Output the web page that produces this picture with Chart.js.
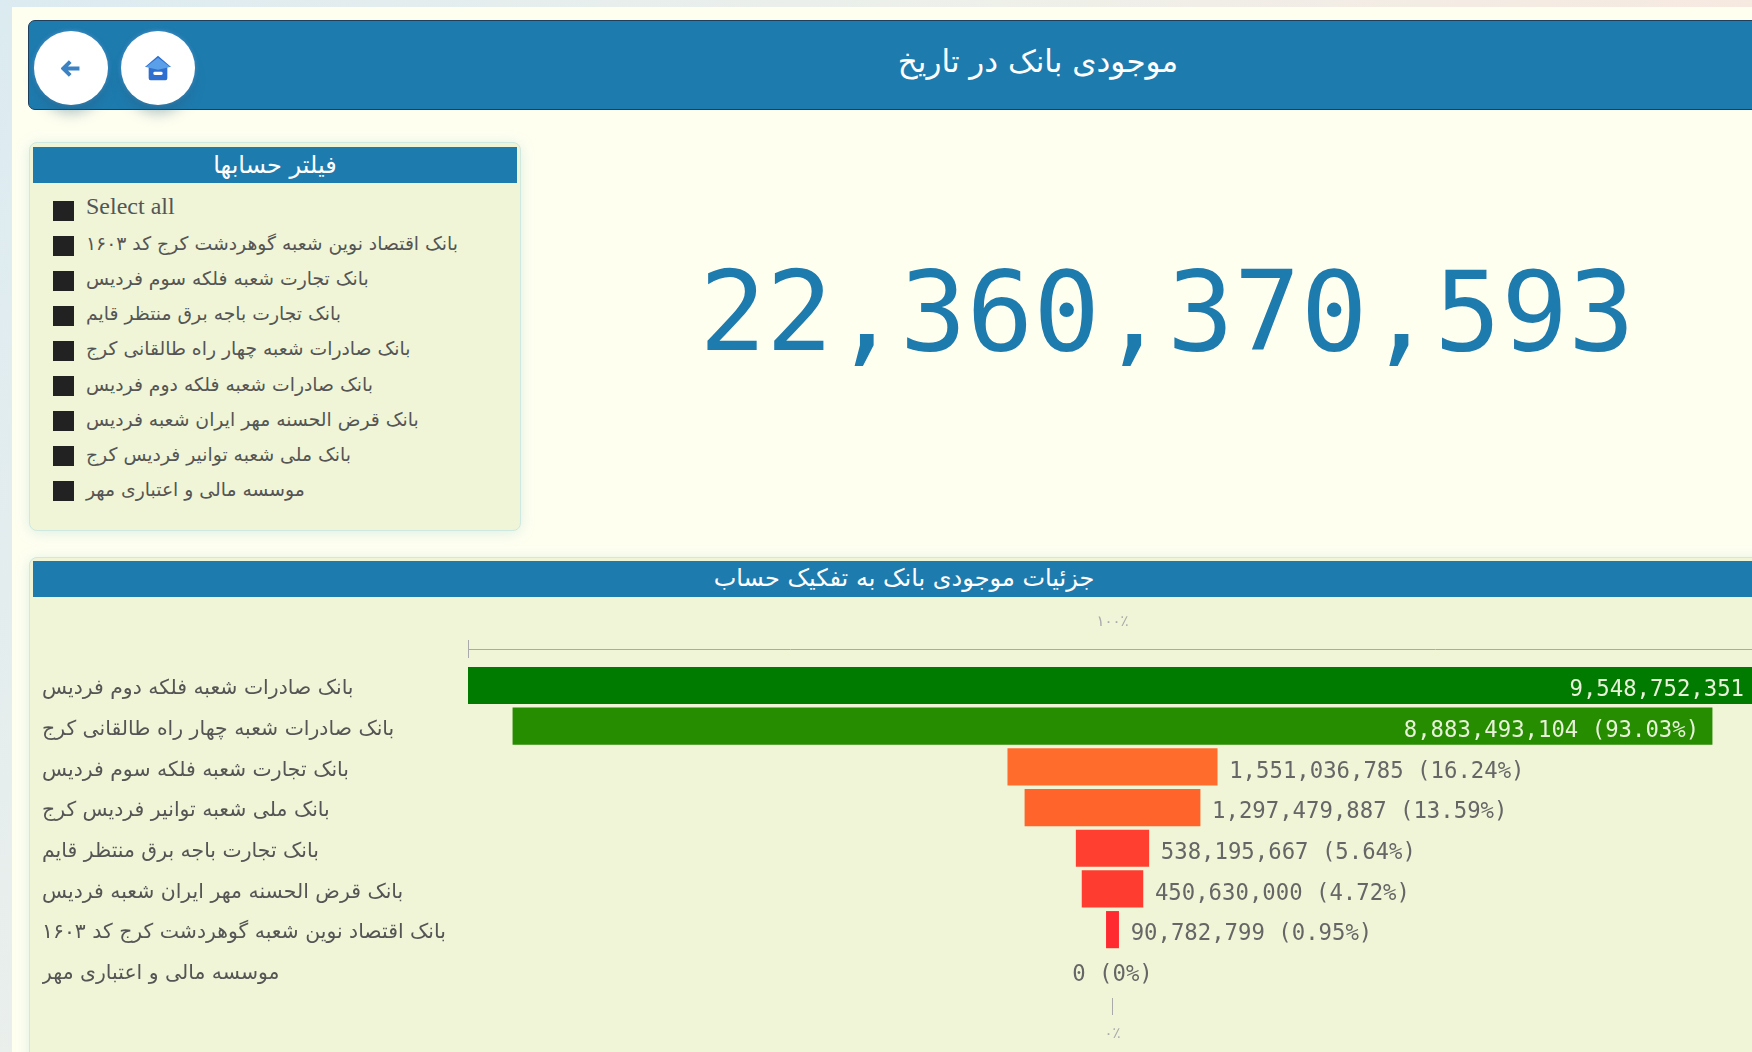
<!DOCTYPE html>
<html lang="fa">
<head>
<meta charset="utf-8">
<title>موجودی بانک در تاریخ</title>
<script src="https://cdn.jsdelivr.net/npm/chart.js@4"></script>
<style>
  html, body { margin: 0; width: 1752px; height: 1052px; overflow: hidden; }
  body { position: relative; background: linear-gradient(125deg, #dcebf1 0%, #eef0ea 40%, #f8e8df 75%); font-family: "DejaVu Sans", sans-serif; }
  .page { position: absolute; left: 12px; top: 7px; right: 0; bottom: 0; background: #fffff0; }
  .header { position: absolute; left: 28px; top: 20px; width: 1740px; height: 90px; background: #1e7bae; border: 1px solid #1f3f5c; border-radius: 7px; box-sizing: border-box; }
  .header h1 { position: absolute; left: 909px; top: 20px; width: 200px; margin: 0; white-space: nowrap; display: flex; justify-content: center; color: #fff; font-size: 31px; font-weight: normal; line-height: 40px; }
  .btn { position: absolute; top: 31px; width: 74px; height: 74px; border-radius: 50%; background: #fff; box-shadow: 0 12px 14px -4px rgba(40, 90, 120, .38), 0 0 4px rgba(90, 150, 210, .8); display: flex; align-items: center; justify-content: center; }
  .panel { position: absolute; background: #eff5d6; border: 1px solid #cfe8e0; border-radius: 8px; box-shadow: 0 2px 14px rgba(120, 190, 200, .25); box-sizing: border-box; }
  .panel .bar { position: absolute; left: 3px; right: 3px; top: 3px; background: #1e7bae; color: #fff; text-align: center; font-size: 24px; }
  #filter { left: 29px; top: 142px; width: 492px; height: 389px; }
  #filter .bar { top: 4px; height: 36px; line-height: 36px; }
  #rows { position: absolute; left: 23px; top: 50px; }
  .row { height: 35.1px; display: flex; align-items: center; color: #555; font-size: 18.8px; white-space: nowrap; }
  .row i { width: 21px; height: 20px; background: #222; margin-right: 12px; flex: none; }
  .row span { position: relative; top: -2px; }
  .row.en { font-family: "Liberation Serif", serif; font-size: 24px; }
  .row.en span { top: -4px; }
  #detail { left: 29px; top: 557px; width: 1760px; height: 520px; }
  #detail .bar { height: 36px; line-height: 34px; }
  #detail .bar span { position: absolute; left: 679px; width: 384px; display: flex; justify-content: center; white-space: nowrap; }
  #total { position: absolute; left: 600px; top: 247px; width: 1134px; text-align: center; color: #1e7bae; font: 111px/130px "DejaVu Sans Mono", monospace; }
  #funnel { position: absolute; left: 33px; top: 600px; }
</style>
</head>
<body>
<div class="page"></div>
<div class="header"><h1 dir="rtl">موجودی بانک در تاریخ</h1></div>
<div class="btn" style="left:34px">
  <svg width="20" height="17" viewBox="0 0 26 22"><path d="M12 2 3 11l9 9M4 11h20" fill="none" stroke="#3b82c4" stroke-width="5"/></svg>
</div>
<div class="btn" style="left:121px">
  <svg width="28" height="28" viewBox="0 0 30 30"><path d="M15 2 1 14h4v12q0 2 2 2h16q2 0 2-2V14h4z" fill="#2f6fd0"/><path d="M2 14 15 4l13 10-13 3z" fill="#5aa0e8"/><rect x="10" y="19" width="10" height="3.5" rx="1.5" fill="#fff"/></svg>
</div>
<div class="panel" id="filter">
  <div class="bar" dir="rtl">فیلتر حسابها</div>
  <div id="rows"></div>
</div>
<div id="total">22,360,370,593</div>
<div class="panel" id="detail">
  <div class="bar"><span dir="rtl">جزئیات موجودی بانک به تفکیک حساب</span></div>
</div>
<canvas id="funnel" width="1760" height="452"></canvas>

<script>
const filter_names = [
  'Select all',
  'بانک اقتصاد نوین شعبه گوهردشت کرج کد ۱۶۰۳',
  'بانک تجارت شعبه فلکه سوم فردیس',
  'بانک تجارت باجه برق منتظر قایم',
  'بانک صادرات شعبه چهار راه طالقانی کرج',
  'بانک صادرات شعبه فلکه دوم فردیس',
  'بانک قرض الحسنه مهر ایران شعبه فردیس',
  'بانک ملی شعبه توانیر فردیس کرج',
  'موسسه مالی و اعتباری مهر'
]
const categories = [
  'بانک صادرات شعبه فلکه دوم فردیس',
  'بانک صادرات شعبه چهار راه طالقانی کرج',
  'بانک تجارت شعبه فلکه سوم فردیس',
  'بانک ملی شعبه توانیر فردیس کرج',
  'بانک تجارت باجه برق منتظر قایم',
  'بانک قرض الحسنه مهر ایران شعبه فردیس',
  'بانک اقتصاد نوین شعبه گوهردشت کرج کد ۱۶۰۳',
  'موسسه مالی و اعتباری مهر'
]
const balances = [9548752351, 8883493104, 1551036785, 1297479887, 538195667, 450630000, 90782799, 0]
const percents = [null, '93.03', '16.24', '13.59', '5.64', '4.72', '0.95', '0']
const bar_colors = ['#007b00', '#268c00', '#ff6c2b', '#ff642b', '#ff4030', '#ff3c30', '#ff2a30', 'transparent']
const top_tick = '۱۰۰٪'
const bottom_tick = '۰٪'

document.getElementById('rows').innerHTML = filter_names.map((name, i) =>
  `<div class="row${i ? '' : ' en'}"><i></i><span${i ? ' dir="rtl"' : ''}>${name}</span></div>`).join('')

const half_max = Math.max(...balances) / 2

// the value labels and the small cap on the left end of the top axis
const funnel_extras = {
  id: 'funnel_extras',
  afterDatasetsDraw(chart) {
    const ctx = chart.ctx, x = chart.scales.x, y = chart.scales.y
    ctx.save()
    ctx.strokeStyle = '#aaa'
    ctx.beginPath()
    ctx.moveTo(x.left + 0.5, x.bottom - 9)
    ctx.lineTo(x.left + 0.5, x.bottom + 9)
    ctx.stroke()

    ctx.font = '22.3px "DejaVu Sans Mono", monospace'
    ctx.textBaseline = 'middle'
    chart.getDatasetMeta(0).data.forEach((bar, i) => {
      const value = balances[i].toLocaleString('en-US'),
            text = percents[i] === null ? value : `${value} (${percents[i]}%)`,
            row = y.getPixelForValue(i) + 5
      if (balances[i] === 0) {
        ctx.textAlign = 'center'
        ctx.fillStyle = '#666'
        ctx.fillText(text, x.getPixelForValue(0), row)
      } else if (balances[i] > half_max) {
        ctx.textAlign = 'right'
        ctx.fillStyle = '#e8f2d8'
        ctx.fillText(text, bar.x - 13, row)
      } else {
        ctx.textAlign = 'left'
        ctx.fillStyle = '#666'
        ctx.fillText(text, bar.x + 12, row)
      }
    })
    ctx.restore()
  }
}

new Chart(document.getElementById('funnel').getContext('2d'), {
  type: 'bar',
  data: {
    datasets: [{
      data: balances.map((value, i) => ({ x: [-value / 2, value / 2], y: i })),
      backgroundColor: bar_colors,
      barThickness: 36.5,
      xAxisID: 'x',
      yAxisID: 'y'
    }]
  },
  plugins: [funnel_extras],
  options: {
    indexAxis: 'y',
    responsive: false,
    animation: false,
    layout: { padding: { left: 9, right: 36, top: 0, bottom: 0 } },
    plugins: { legend: { display: false }, tooltip: { enabled: false } },
    scales: {
      x: {
        type: 'linear',
        position: 'top',
        min: -half_max,
        max: half_max,
        afterFit: scale => { scale.height = 49 },
        afterBuildTicks: scale => { scale.ticks = [{ value: 0 }] },
        grid: { display: true, drawOnChartArea: false, drawTicks: false },
        border: { display: true, color: '#aaa' },
        ticks: { autoSkip: false, maxRotation: 0, padding: 18, color: '#aaa', font: { size: 15, family: '"DejaVu Sans"' }, callback: () => top_tick }
      },
      x2: {
        type: 'linear',
        axis: 'x',
        position: 'bottom',
        min: -half_max,
        max: half_max,
        afterFit: scale => { scale.height = 54 },
        afterBuildTicks: scale => { scale.ticks = [{ value: 0 }] },
        grid: { display: true, drawOnChartArea: false, drawTicks: true, tickLength: 17, tickColor: '#aaa' },
        border: { display: false },
        ticks: { autoSkip: false, maxRotation: 0, padding: 10, color: '#aaa', font: { size: 15, family: '"DejaVu Sans"' }, callback: () => bottom_tick }
      },
      y: {
        type: 'linear',
        reverse: true,
        offset: false,
        min: -0.897,
        max: 7.68,
        afterFit: scale => { scale.width = 426 },
        afterBuildTicks: scale => { scale.ticks = categories.map((name, i) => ({ value: i })) },
        grid: { display: false },
        border: { display: false },
        ticks: { autoSkip: false, crossAlign: 'far', labelOffset: 3.5, color: '#555', font: { size: 20.4, family: '"DejaVu Sans"' }, callback: value => categories[value] }
      }
    }
  }
})
</script>
</body>
</html>
